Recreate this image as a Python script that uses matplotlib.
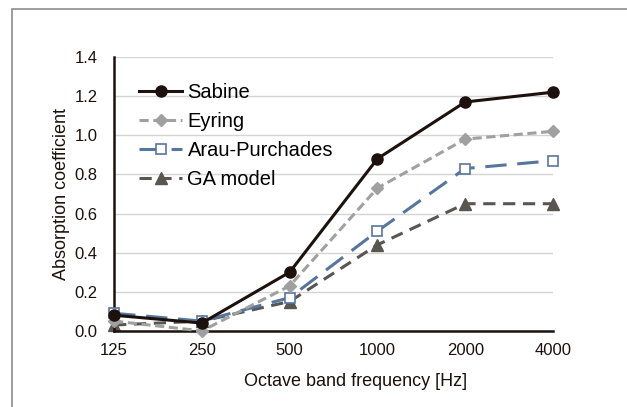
import matplotlib
matplotlib.use("Agg")
import matplotlib.pyplot as plt
from matplotlib.patches import Rectangle

plt.rcParams['font.family'] = ['Liberation Sans', 'DejaVu Sans']

freqs = ["125", "250", "500", "1000", "2000", "4000"]
sabine = [0.08, 0.04, 0.30, 0.88, 1.17, 1.22]
eyring = [0.05, 0.00, 0.23, 0.73, 0.98, 1.02]
arau = [0.09, 0.05, 0.17, 0.51, 0.83, 0.87]
ga_model = [0.03, 0.05, 0.15, 0.44, 0.65, 0.65]

fig = plt.figure(figsize=(6.27, 4.07), dpi=100)
ax = fig.add_axes([0.182, 0.187, 0.7, 0.673])

# outer frame of the chart area
fig.patches.append(Rectangle((12/627, -0.1), 1.0, 1 - 9/407 + 0.1, transform=fig.transFigure,
                             fill=False, edgecolor="#8c8c8c", linewidth=1.2))

x = range(len(freqs))
ax.plot(x, sabine, color="#1c110c", lw=2.2, marker="o", ms=8, label="Sabine", zorder=5)
ax.plot(x, eyring, color="#a0a0a0", lw=2.2, ls=(0, (3, 1.5)), marker="D", ms=6.5, label="Eyring", zorder=4)
ax.plot(x, arau, color="#57769e", lw=2.2, ls=(0, (7, 3.5)), marker="s", ms=7.5,
        mfc="white", mec="#57769e", mew=1.2, label="Arau-Purchades", zorder=3)
ax.plot(x, ga_model, color="#595651", lw=2.2, ls=(0, (4, 2.5)), marker="^", ms=8, label="GA model", zorder=2)

ax.set_xlim(0, 5)
ax.set_ylim(0, 1.4)
ax.set_xticks(list(x))
ax.set_xticklabels(freqs)
ax.set_yticks([0, 0.2, 0.4, 0.6, 0.8, 1.0, 1.2, 1.4])
ax.set_yticklabels(["%.1f" % v for v in ax.get_yticks()])
ax.tick_params(axis="y", length=0, labelsize=12, colors="#1c110c", pad=12)
ax.tick_params(axis="x", length=0, labelsize=12, colors="#1c110c", pad=9)
ax.grid(axis="y", color="#d4d4d4", lw=1)
ax.set_axisbelow(True)
for s in ["top", "right"]:
    ax.spines[s].set_visible(False)
for s in ["left", "bottom"]:
    ax.spines[s].set_color("#1c110c")
    ax.spines[s].set_linewidth(1.8)

ax.set_xlabel("Octave band frequency [Hz]", fontsize=13, color="#1c110c")
ax.xaxis.set_label_coords(0.549, -0.155)
ax.set_ylabel("Absorption coefficient", fontsize=13, color="#1c110c", labelpad=3)

ax.legend(loc="upper left", bbox_to_anchor=(0.057, 0.905), frameon=False, fontsize=14.5,
          handlelength=2.15, labelspacing=0.5, handletextpad=0.25, borderpad=0, borderaxespad=0)
for line in ax.lines:
    line.set_clip_on(False)

fig.savefig("out.png", dpi=100)
